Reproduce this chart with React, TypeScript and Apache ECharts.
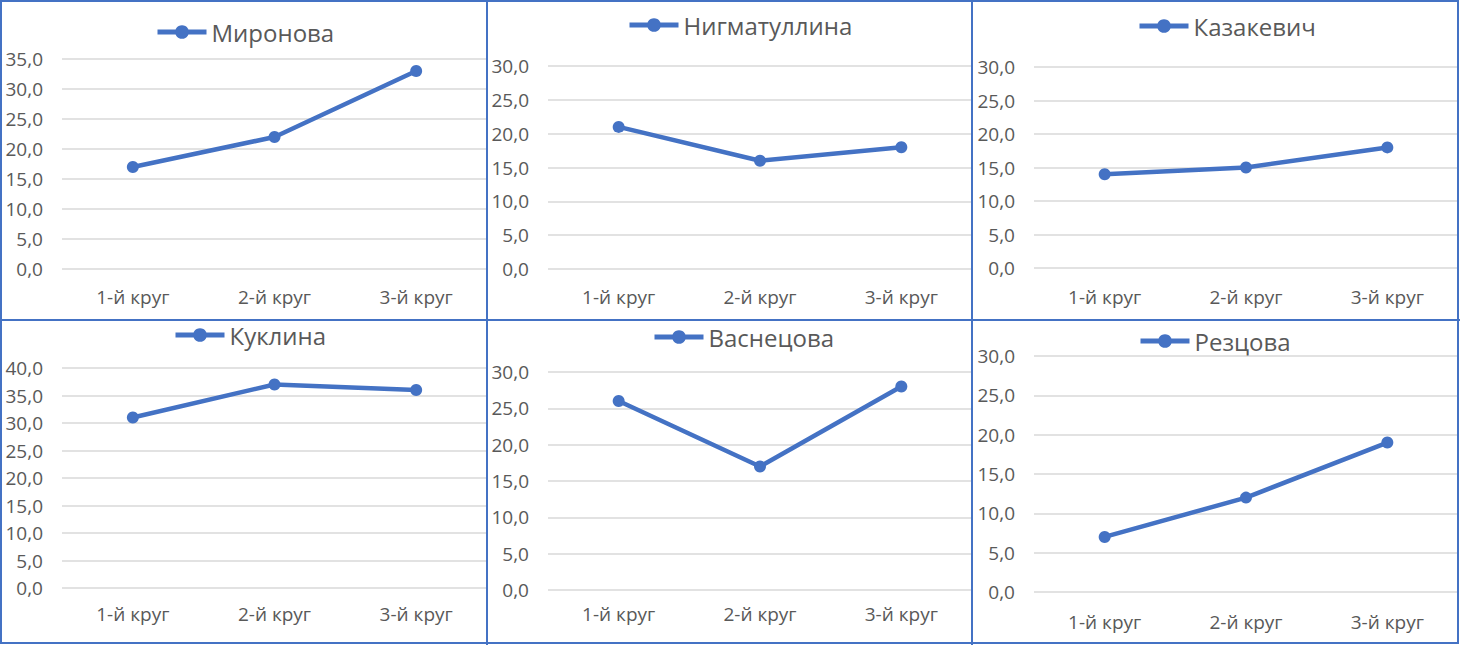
import React, { useEffect, useRef } from "react";
import * as echarts from "echarts";

const categories = ["1-й круг", "2-й круг", "3-й круг"];
const names = ["Миронова", "Нигматуллина", "Казакевич", "Куклина", "Васнецова", "Резцова"];
const mironova = [17, 22, 33];
const nigmatullina = [21, 16, 18];
const kazakevich = [14, 15, 18];
const kuklina = [31, 37, 36];
const vasnetsova = [26, 17, 28];
const reztsova = [7, 12, 19];
const seriesValues = [mironova, nigmatullina, kazakevich, kuklina, vasnetsova, reztsova];
const yMax = [35, 30, 30, 40, 30, 30];

// layout (pixels)
const grids = [
  { left: 62, top: 59, width: 425, height: 210 },
  { left: 548, top: 66, width: 424, height: 203 },
  { left: 1034, top: 67, width: 424, height: 201 },
  { left: 62, top: 368, width: 425, height: 220 },
  { left: 548, top: 372, width: 424, height: 218 },
  { left: 1034, top: 356, width: 424, height: 236 },
];
const xLabelMargin = [18, 18, 19, 16, 14, 20];
const legendPos = [
  { left: 155, cy: 35 },
  { left: 627, cy: 28 },
  { left: 1137, cy: 29 },
  { left: 173, cy: 338 },
  { left: 652, cy: 340 },
  { left: 1138, cy: 344 },
];

const FONT = "'Open Sans', sans-serif";
const TEXT = "#595959";
const BLUE = "#4472c4";
const GRID = "#d9d9d9";
const BORDER = "#4472c4";

export default function App() {
  const ref = useRef<HTMLDivElement>(null);
  useEffect(() => {
    if (!ref.current) return;
    const chart = echarts.init(ref.current, undefined, { renderer: "svg" });
    const option: any = {
      animation: false,
      backgroundColor: "#ffffff",
      textStyle: { fontFamily: FONT },
      grid: grids.map((g) => ({ ...g, containLabel: false })),
      xAxis: grids.map((_, i) => ({
        type: "category",
        gridIndex: i,
        data: categories,
        boundaryGap: true,
        axisLine: { show: false },
        axisTick: { show: false },
        axisLabel: { color: TEXT, fontSize: 19, fontFamily: FONT, margin: xLabelMargin[i] },
      })),
      yAxis: grids.map((_, i) => ({
        type: "value",
        gridIndex: i,
        min: 0,
        max: yMax[i],
        interval: 5,
        axisLine: { show: false },
        axisTick: { show: false },
        splitLine: { lineStyle: { color: GRID, width: 1.5 } },
        axisLabel: {
          color: TEXT,
          fontSize: 19,
          fontFamily: FONT,
          margin: 19,
          formatter: (v: number) => v.toFixed(1).replace(".", ","),
        },
      })),
      legend: legendPos.map((p, i) => ({
        data: [names[i]],
        left: p.left,
        top: p.cy - 15,
        padding: 0,
        itemWidth: 49,
        itemHeight: 17,
        itemGap: 5,
        lineStyle: { width: 5 },
        textStyle: { color: TEXT, fontSize: 24, fontFamily: FONT },
      })),
      series: seriesValues.map((vals, i) => ({
        name: names[i],
        type: "line",
        xAxisIndex: i,
        yAxisIndex: i,
        data: vals,
        symbol: "circle",
        symbolSize: 12,
        lineStyle: { color: BLUE, width: 4.5 },
        itemStyle: { color: BLUE },
      })),
      graphic: [
        { type: "rect", shape: { x: 1, y: 1, width: 1457, height: 642 }, style: { fill: "none", stroke: BORDER, lineWidth: 2 }, z: 100 },
        { type: "line", shape: { x1: 487, y1: 0, x2: 487, y2: 645 }, style: { stroke: BORDER, lineWidth: 2 }, z: 100 },
        { type: "line", shape: { x1: 972, y1: 0, x2: 972, y2: 645 }, style: { stroke: BORDER, lineWidth: 2 }, z: 100 },
        { type: "line", shape: { x1: 0, y1: 320, x2: 1460, y2: 320 }, style: { stroke: BORDER, lineWidth: 2 }, z: 100 },
      ],
    };
    chart.setOption(option);
    return () => chart.dispose();
  }, []);
  return (
    <div
      ref={ref}
      style={{ position: "fixed", left: 0, top: 0, width: 1460, height: 645, background: "#fff" }}
    />
  );
}
